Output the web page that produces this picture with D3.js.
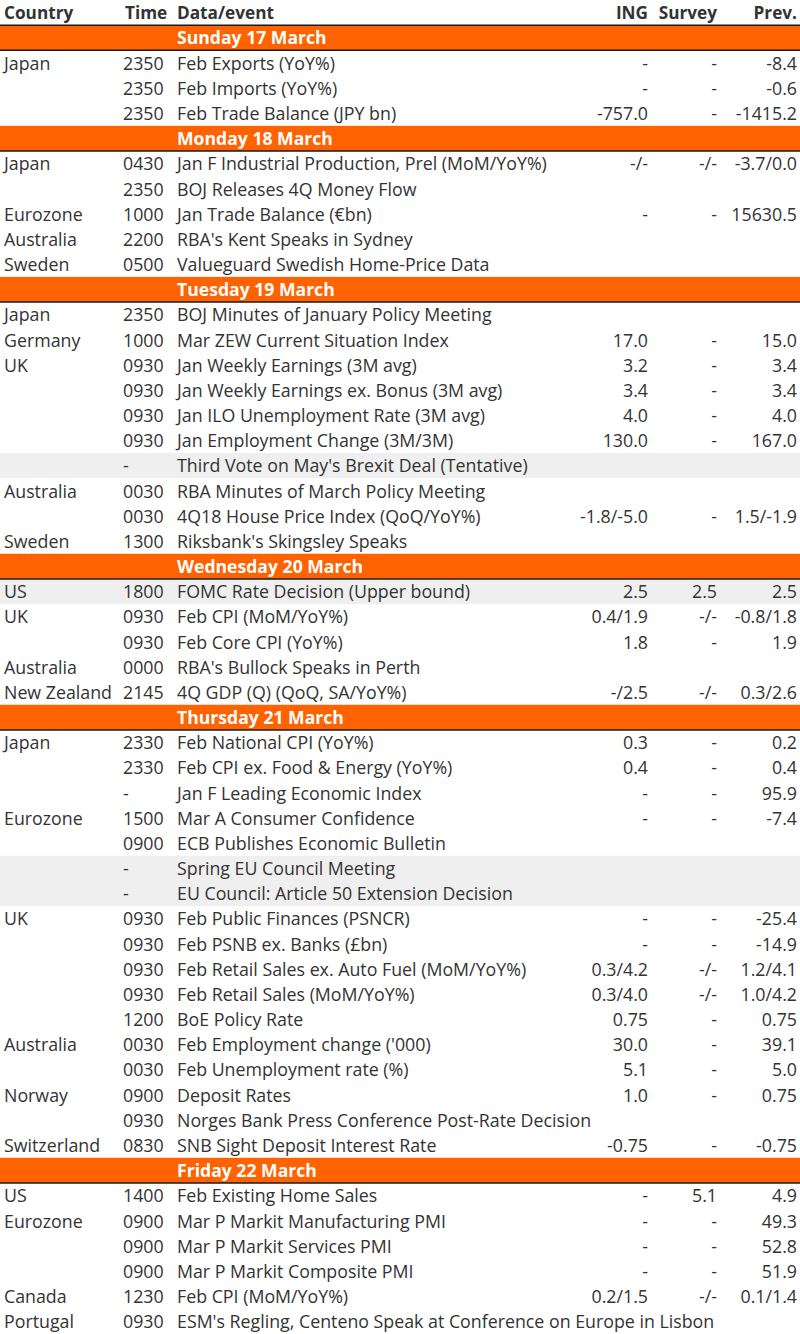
<!DOCTYPE html>
<html>
<head>
<meta charset="utf-8">
<script src="https://cdn.jsdelivr.net/npm/d3@7"></script>
<style>
  html, body { margin: 0; padding: 0; background: #fff; }
  svg text { font-family: "Open Sans", "Noto Sans", sans-serif; }
</style>
</head>
<body>
<div id="chart"></div>
<script>
// Column headers
const columns = ['Country', 'Time', 'Data/event', 'ING', 'Survey', 'Prev.'];

// Day labels, one band each
const days = ['Sunday 17 March', 'Monday 18 March', 'Tuesday 19 March',
  'Wednesday 20 March', 'Thursday 21 March', 'Friday 22 March'];

// Rows per day: country, time, event, ING, survey, previous
const sunday = [
  ['Japan', '2350', 'Feb Exports (YoY%)', '-', '-', '-8.4'],
  ['', '2350', 'Feb Imports (YoY%)', '-', '-', '-0.6'],
  ['', '2350', 'Feb Trade Balance (JPY bn)', '-757.0', '-', '-1415.2']
];
const monday = [
  ['Japan', '0430', 'Jan F Industrial Production, Prel (MoM/YoY%)', '-/-', '-/-', '-3.7/0.0'],
  ['', '2350', 'BOJ Releases 4Q Money Flow', '', '', ''],
  ['Eurozone', '1000', 'Jan Trade Balance (€bn)', '-', '-', '15630.5'],
  ['Australia', '2200', "RBA's Kent Speaks in Sydney", '', '', ''],
  ['Sweden', '0500', 'Valueguard Swedish Home-Price Data', '', '', '']
];
const tuesday = [
  ['Japan', '2350', 'BOJ Minutes of January Policy Meeting', '', '', ''],
  ['Germany', '1000', 'Mar ZEW Current Situation Index', '17.0', '-', '15.0'],
  ['UK', '0930', 'Jan Weekly Earnings (3M avg)', '3.2', '-', '3.4'],
  ['', '0930', 'Jan Weekly Earnings ex. Bonus (3M avg)', '3.4', '-', '3.4'],
  ['', '0930', 'Jan ILO Unemployment Rate (3M avg)', '4.0', '-', '4.0'],
  ['', '0930', 'Jan Employment Change (3M/3M)', '130.0', '-', '167.0'],
  ['', '-', "Third Vote on May's Brexit Deal (Tentative)", '', '', ''],
  ['Australia', '0030', 'RBA Minutes of March Policy Meeting', '', '', ''],
  ['', '0030', '4Q18 House Price Index (QoQ/YoY%)', '-1.8/-5.0', '-', '1.5/-1.9'],
  ['Sweden', '1300', "Riksbank's Skingsley Speaks", '', '', '']
];
const wednesday = [
  ['US', '1800', 'FOMC Rate Decision (Upper bound)', '2.5', '2.5', '2.5'],
  ['UK', '0930', 'Feb CPI (MoM/YoY%)', '0.4/1.9', '-/-', '-0.8/1.8'],
  ['', '0930', 'Feb Core CPI (YoY%)', '1.8', '-', '1.9'],
  ['Australia', '0000', "RBA's Bullock Speaks in Perth", '', '', ''],
  ['New Zealand', '2145', '4Q GDP (Q) (QoQ, SA/YoY%)', '-/2.5', '-/-', '0.3/2.6']
];
const thursday = [
  ['Japan', '2330', 'Feb National CPI (YoY%)', '0.3', '-', '0.2'],
  ['', '2330', 'Feb CPI ex. Food & Energy (YoY%)', '0.4', '-', '0.4'],
  ['', '-', 'Jan F Leading Economic Index', '-', '-', '95.9'],
  ['Eurozone', '1500', 'Mar A Consumer Confidence', '-', '-', '-7.4'],
  ['', '0900', 'ECB Publishes Economic Bulletin', '', '', ''],
  ['', '-', 'Spring EU Council Meeting', '', '', ''],
  ['', '-', 'EU Council: Article 50 Extension Decision', '', '', ''],
  ['UK', '0930', 'Feb Public Finances (PSNCR)', '-', '-', '-25.4'],
  ['', '0930', 'Feb PSNB ex. Banks (£bn)', '-', '-', '-14.9'],
  ['', '0930', 'Feb Retail Sales ex. Auto Fuel (MoM/YoY%)', '0.3/4.2', '-/-', '1.2/4.1'],
  ['', '0930', 'Feb Retail Sales (MoM/YoY%)', '0.3/4.0', '-/-', '1.0/4.2'],
  ['', '1200', 'BoE Policy Rate', '0.75', '-', '0.75'],
  ['Australia', '0030', "Feb Employment change ('000)", '30.0', '-', '39.1'],
  ['', '0030', 'Feb Unemployment rate (%)', '5.1', '-', '5.0'],
  ['Norway', '0900', 'Deposit Rates', '1.0', '-', '0.75'],
  ['', '0930', 'Norges Bank Press Conference Post-Rate Decision', '', '', ''],
  ['Switzerland', '0830', 'SNB Sight Deposit Interest Rate', '-0.75', '-', '-0.75']
];
const friday = [
  ['US', '1400', 'Feb Existing Home Sales', '-', '5.1', '4.9'],
  ['Eurozone', '0900', 'Mar P Markit Manufacturing PMI', '-', '-', '49.3'],
  ['', '0900', 'Mar P Markit Services PMI', '-', '-', '52.8'],
  ['', '0900', 'Mar P Markit Composite PMI', '-', '-', '51.9'],
  ['Canada', '1230', 'Feb CPI (MoM/YoY%)', '0.2/1.5', '-/-', '0.1/1.4'],
  ['Portugal', '0930', "ESM's Regling, Centeno Speak at Conference on Europe in Lisbon", '', '', '']
];

// Key events shaded grey
const highlighted = ["Third Vote on May's Brexit Deal (Tentative)",
  'FOMC Rate Decision (Upper bound)', 'Spring EU Council Meeting',
  'EU Council: Article 50 Extension Decision'];

const dayRows = [sunday, monday, tuesday, wednesday, thursday, friday];

// Flatten into display lines
const lines = [{type: 'header', cells: columns}];
days.forEach((d, i) => {
  lines.push({type: 'day', label: d});
  dayRows[i].forEach(r => lines.push({type: 'row', cells: r}));
});

const W = 800, H = 1334;
const orange = '#ff6200';
const ink = '#333333';

const svg = d3.select('#chart').append('svg')
  .attr('width', W).attr('height', H)
  .attr('viewBox', `0 0 ${W} ${H}`);

const y = d3.scaleBand().domain(d3.range(lines.length)).range([0, H]);

// x anchors: [position, text-anchor]
const colX = [[4, 'start'], [123, 'start'], [177, 'start'], [648, 'end'], [717, 'end'], [797, 'end']];

// Backgrounds
svg.selectAll('rect.band')
  .data(lines.map((l, i) => ({l, i})).filter(d => d.l.type === 'day'
    || (d.l.type === 'row' && highlighted.includes(d.l.cells[2]))))
  .enter().append('rect')
  .attr('x', 0).attr('width', W)
  .attr('y', d => y(d.i))
  .attr('height', y.bandwidth())
  .attr('fill', d => d.l.type === 'day' ? orange : '#efefef');

// Rules below header and below each day band
svg.selectAll('line.rule')
  .data(lines.map((l, i) => ({l, i})).filter(d => d.l.type !== 'row'))
  .enter().append('line')
  .attr('x1', 0).attr('x2', W)
  .attr('y1', d => y(d.i) + y.bandwidth())
  .attr('y2', d => y(d.i) + y.bandwidth())
  .attr('stroke', '#1a1a1a').attr('stroke-width', 1.5);

const g = svg.selectAll('g.line')
  .data(lines).enter().append('g')
  .attr('transform', (d, i) => `translate(0,${y(i) + y.bandwidth() / 2})`);

g.filter(d => d.type !== 'day').selectAll('text')
  .data(d => d.cells.map((c, j) => ({c, j, header: d.type === 'header'})))
  .enter().append('text')
  .attr('x', d => d.header && d.j === 1 ? 125 : colX[d.j][0])
  .attr('text-anchor', d => colX[d.j][1])
  .attr('dy', '0.38em')
  .attr('font-size', d => d.header ? 17.2 : 17.8)
  .attr('font-weight', d => d.header ? 700 : 400)
  .attr('fill', ink)
  .text(d => d.c);

g.filter(d => d.type === 'day').append('text')
  .attr('x', colX[2][0])
  .attr('dy', '0.38em')
  .attr('font-size', 17.6)
  .attr('font-weight', 700)
  .attr('fill', '#fff')
  .text(d => d.label);
</script>
</body>
</html>
